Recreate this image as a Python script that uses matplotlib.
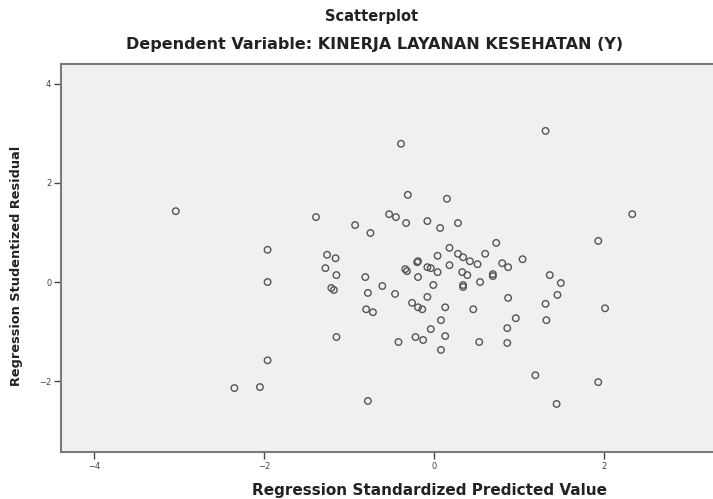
import matplotlib
matplotlib.use('Agg')

import matplotlib.pyplot as plt
import numpy as np

plt.rcParams['font.family'] = ['DejaVu Sans']

# standardized predicted values (x) and studentized residuals (y)
pred = [-3.04, -1.39, -1.96, -1.26, -1.16, -1.28, -1.96, -1.21, -1.18, -1.15,
        -1.96, -2.35, -2.05, -0.39, -0.31, 0.15, -0.53, -0.45, -0.33, -0.08,
        0.07, 0.28, -0.93, -0.75, 0.18, 0.04, 0.28, 0.34, -0.19, -0.81,
        -0.61, -0.78, -0.46, -0.80, -0.72, -1.15, -0.42, -0.78, -0.34, -0.32,
        -0.19, -0.20, -0.08, -0.04, 0.04, 0.18, 0.33, 0.39, -0.01, 0.34,
        0.34, -0.08, -0.26, -0.19, -0.14, 0.13, 0.08, -0.04, -0.22, -0.13,
        0.13, 0.08, 1.31, 2.33, 1.93, 0.73, 0.60, 1.04, 0.42, 0.51,
        0.80, 0.87, 0.69, 0.69, 0.54, 1.36, 1.49, 1.45, 0.87, 1.31,
        0.46, 0.96, 1.32, 0.86, 2.01, 0.53, 0.86, 1.19, 1.93, 1.44]
resid = [1.43, 1.31, 0.65, 0.55, 0.48, 0.28, 0.00, -0.12, -0.16, 0.14,
         -1.58, -2.14, -2.12, 2.79, 1.76, 1.68, 1.37, 1.31, 1.19, 1.23,
         1.09, 1.19, 1.15, 0.99, 0.69, 0.53, 0.57, 0.50, 0.42, 0.10,
         -0.08, -0.22, -0.24, -0.55, -0.61, -1.11, -1.21, -2.40, 0.26, 0.22,
         0.10, 0.40, 0.30, 0.28, 0.20, 0.34, 0.20, 0.14, -0.06, -0.10,
         -0.06, -0.30, -0.42, -0.51, -0.55, -0.51, -0.77, -0.95, -1.11, -1.17,
         -1.09, -1.37, 3.05, 1.37, 0.83, 0.79, 0.57, 0.46, 0.42, 0.36,
         0.38, 0.30, 0.16, 0.12, 0.00, 0.14, -0.02, -0.26, -0.32, -0.44,
         -0.55, -0.73, -0.77, -0.93, -0.53, -1.21, -1.23, -1.88, -2.02, -2.46]

fig = plt.figure(figsize=(7.13, 4.99), dpi=100)
ax = fig.add_axes([61/713, 47/499, 652/713, 388/499])
ax.set_facecolor('#f0f0f0')

ax.scatter(pred, resid, s=22, facecolors='none', edgecolors='#555555', linewidths=1.0)

ax.set_xlim(-4.39, 3.28)
ax.set_ylim(-3.43, 4.4)
ax.set_xticks([-4, -2, 0, 2])
ax.set_yticks([-2, 0, 2, 4])
ax.tick_params(direction='out', length=5, width=1, colors='#444444', labelsize=6, pad=2)

for side in ['left', 'bottom', 'top']:
    ax.spines[side].set_color('#7a7a7a')
    ax.spines[side].set_linewidth(1.5)
ax.spines['right'].set_visible(False)

ax.set_xlabel('Regression Standardized Predicted Value', fontsize=11, fontweight='bold', color='#222222')
ax.xaxis.set_label_coords((430 - 61) / 652, -0.08)
ax.set_ylabel('Regression Studentized Residual', fontsize=9.3, fontweight='bold', color='#222222')
ax.yaxis.set_label_coords(-0.058, 0.48)

fig.text(372/713, 1 - 17/499, 'Scatterplot', ha='center', va='center', fontsize=10.5, fontweight='bold', color='#222222')
fig.text(375/713, 1 - 45/499, 'Dependent Variable: KINERJA LAYANAN KESEHATAN (Y)', ha='center', va='center',
         fontsize=11.5, fontweight='bold', color='#222222')

plt.savefig('out.png', dpi=100)
